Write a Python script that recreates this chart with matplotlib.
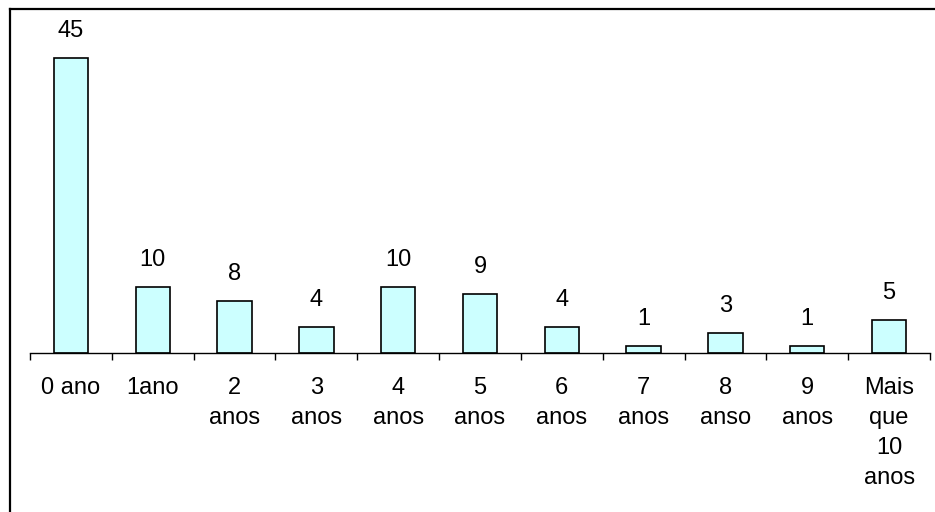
import matplotlib
matplotlib.use("Agg")
import matplotlib.pyplot as plt
from matplotlib.lines import Line2D

categories = ["0 ano", "1ano", "2\nanos", "3\nanos", "4\nanos", "5\nanos",
              "6\nanos", "7\nanos", "8\nanso", "9\nanos", "Mais\nque\n10\nanos"]
values = [45, 10, 8, 4, 10, 9, 4, 1, 3, 1, 5]

W, H = 935, 512
fig = plt.figure(figsize=(W / 100, H / 100), dpi=100)
plt.rcParams["font.family"] = ["Liberation Sans", "DejaVu Sans"]

# chart frame (left and top edges visible)
fig.add_artist(Line2D([10 / W, 10 / W], [0, 1 - 9 / H], color="black", lw=1.6))
fig.add_artist(Line2D([10 / W, 1], [1 - 9 / H, 1 - 9 / H], color="black", lw=1.6))

x0, x1 = 30, 930
ybase, ytop = 353, 9
ax = fig.add_axes([x0 / W, 1 - ybase / H, (x1 - x0) / W, (ybase - ytop) / H])

px_per_unit = (353 - 58) / 45.0
ax.set_ylim(0, (ybase - ytop) / px_per_unit)
ax.set_xlim(-0.5, len(values) - 0.5)

pos = list(range(len(values)))
ax.bar(pos, values, width=0.42, color="#CCFFFF", edgecolor="black", linewidth=1.2)

FS = 17
for x, v in zip(pos, values):
    ax.annotate(str(v), (x, v), xytext=(0, 16), textcoords="offset pixels",
                ha="center", va="bottom", fontsize=FS)

for s in ["left", "right", "top"]:
    ax.spines[s].set_visible(False)
ax.spines["bottom"].set_linewidth(1.0)
ax.set_yticks([])

ax.set_xticks([p - 0.5 for p in pos] + [len(values) - 0.5], minor=False)
ax.set_xticklabels([])
ax.tick_params(axis="x", which="major", direction="out", length=5, width=1)
ax.set_xticks(pos, minor=True)
ax.set_xticklabels(categories, minor=True, fontsize=FS, linespacing=1.48)
ax.tick_params(axis="x", which="minor", length=0, pad=17)

fig.savefig("out.png", dpi=100)
